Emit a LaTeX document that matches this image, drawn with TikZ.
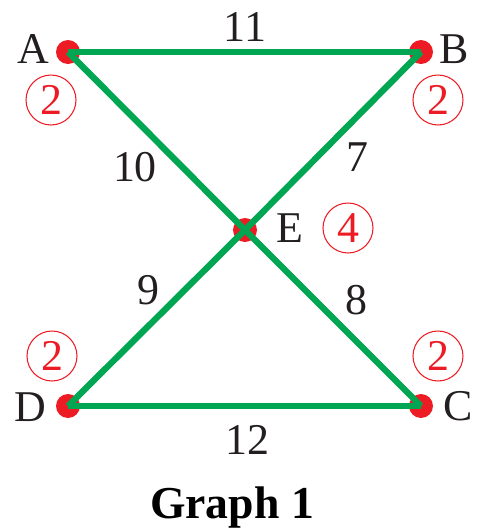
\documentclass[tikz,border=0pt]{standalone}
\usepackage{fontspec}
\setmainfont{Liberation Serif}
\usetikzlibrary{positioning}
\definecolor{dotred}{HTML}{ED1C24}
\definecolor{edgegreen}{HTML}{00A651}
\definecolor{txtgray}{HTML}{231F20}

\begin{document}
\begin{tikzpicture}[x=0.02cm,y=-0.02cm,font=\fontsize{25}{30}\selectfont,
 vtx/.style={circle,fill=dotred,inner sep=0pt,minimum size=0.48cm},
 deg/.style={circle,draw=dotred,text=dotred,line width=0.6pt,inner sep=0pt,minimum size=1.0cm},
 edge/.style={edgegreen,line width=3.6pt},
 lbl/.style={text=txtgray,inner sep=0pt}]
\useasboundingbox (0,0) rectangle (477,532);
% vertices
\foreach \n/\x/\y in {A/68/52,B/421/52,E/245/230,D/68/406,C/421/406}
 \node[vtx] (\n) at (\x,\y) {};
% edges
\draw[edge] (A.center)--(B.center);\draw[edge] (D.center)--(C.center);
\draw[edge] (A.center)--(E.center);\draw[edge] (E.center)--(C.center);
\draw[edge] (B.center)--(E.center);\draw[edge] (E.center)--(D.center);
% vertex names and degrees
\foreach \n/\x/\y in {A/33/49,B/454/49,E/290/228,D/30/407,C/458/406}
 \node[lbl] (l\n) at (\x,\y) {\n};
\foreach \n/\x/\y/\d in {A/51/100/2,B/438/100/2,E/348/228/4,D/52/356/2,C/438/356/2}
 \node[deg] (d\n) at (\x,\y) {\d};
% weights
\foreach \n/\x/\y/\w in {ab/245/27/11,ae/135/167/10,be/357/157/7,de/148/290/9,ec/356/300/8,dc/247/440/12}
 \node[lbl] (w\n) at (\x,\y) {\w};
\node[lbl,anchor=base,font=\fontsize{26}{30}\selectfont\bfseries,text=black] (title) at (232,518) {Graph 1};
\end{tikzpicture}
\end{document}
